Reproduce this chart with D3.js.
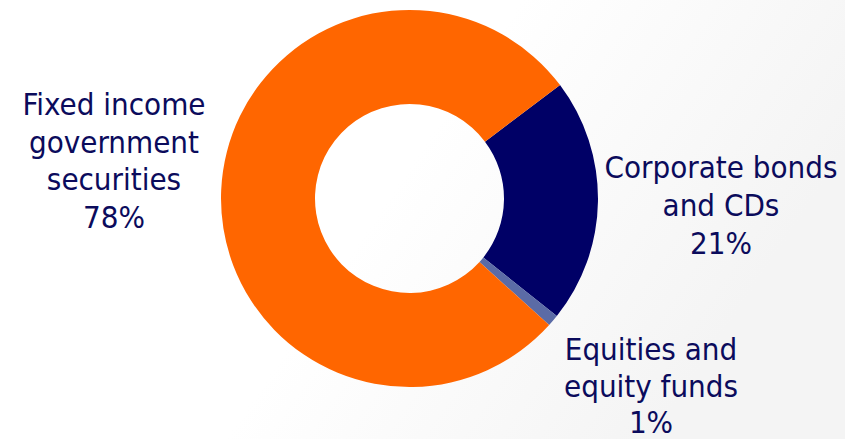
<!DOCTYPE html>
<html>
<head>
<meta charset="utf-8">
<script src="https://cdn.jsdelivr.net/npm/d3@7"></script>
<style>
  html, body { margin: 0; padding: 0; background: #ffffff; }
  svg { display: block; }
  text { font-family: "DejaVu Sans Condensed", "DejaVu Sans", sans-serif; }
</style>
</head>
<body>
<svg id="chart" width="845" height="439"></svg>
<script>
// Portfolio composition
const categories = ["Corporate bonds and CDs", "Equities and equity funds", "Fixed income government securities"];
const values = [21, 1, 78];
const colors = ["#000066", "#5b6ba6", "#ff6600"];
const labelLines = [
  ["Corporate bonds", "and CDs", "21%"],
  ["Equities and", "equity funds", "1%"],
  ["Fixed income", "government", "securities", "78%"]
];

const W = 845, H = 439;
const svg = d3.select("#chart");

// soft slide background shading toward the right
const defs = svg.append("defs");
const grad = defs.append("linearGradient")
  .attr("id", "bg").attr("x1", "0%").attr("y1", "0%").attr("x2", "100%").attr("y2", "35%");
grad.append("stop").attr("offset", "0%").attr("stop-color", "#ffffff");
grad.append("stop").attr("offset", "55%").attr("stop-color", "#ffffff");
grad.append("stop").attr("offset", "100%").attr("stop-color", "#f4f4f4");
svg.append("rect").attr("width", W).attr("height", H).attr("fill", "url(#bg)");

const cx = 409.5, cy = 198.5;
const outerR = 188.5, innerR = 94.5;

const start = 53 * Math.PI / 180;
const pie = d3.pie().sort(null).value(d => d)
  .startAngle(start).endAngle(start + 2 * Math.PI);
const arc = d3.arc().innerRadius(innerR).outerRadius(outerR);

const g = svg.append("g").attr("transform", `translate(${cx},${cy})`);
g.selectAll("path")
  .data(pie(values))
  .join("path")
  .attr("d", arc)
  .attr("fill", (d, i) => colors[i]);

// category labels
const labelPos = [
  { x: 721, y: 178, lh: 38 },
  { x: 651, y: 360, lh: 36.5 },
  { x: 114, y: 115, lh: 37.7 }
];
const textColor = "#0b0b5c";

labelLines.forEach((lines, i) => {
  const p = labelPos[i];
  const t = svg.append("text")
    .attr("x", p.x)
    .attr("y", p.y)
    .attr("text-anchor", "middle")
    .attr("fill", textColor)
    .attr("font-size", 31);
  lines.forEach((ln, j) => {
    t.append("tspan")
      .attr("x", p.x)
      .attr("y", p.y + j * p.lh)
      .text(ln);
  });
});
</script>
</body>
</html>
